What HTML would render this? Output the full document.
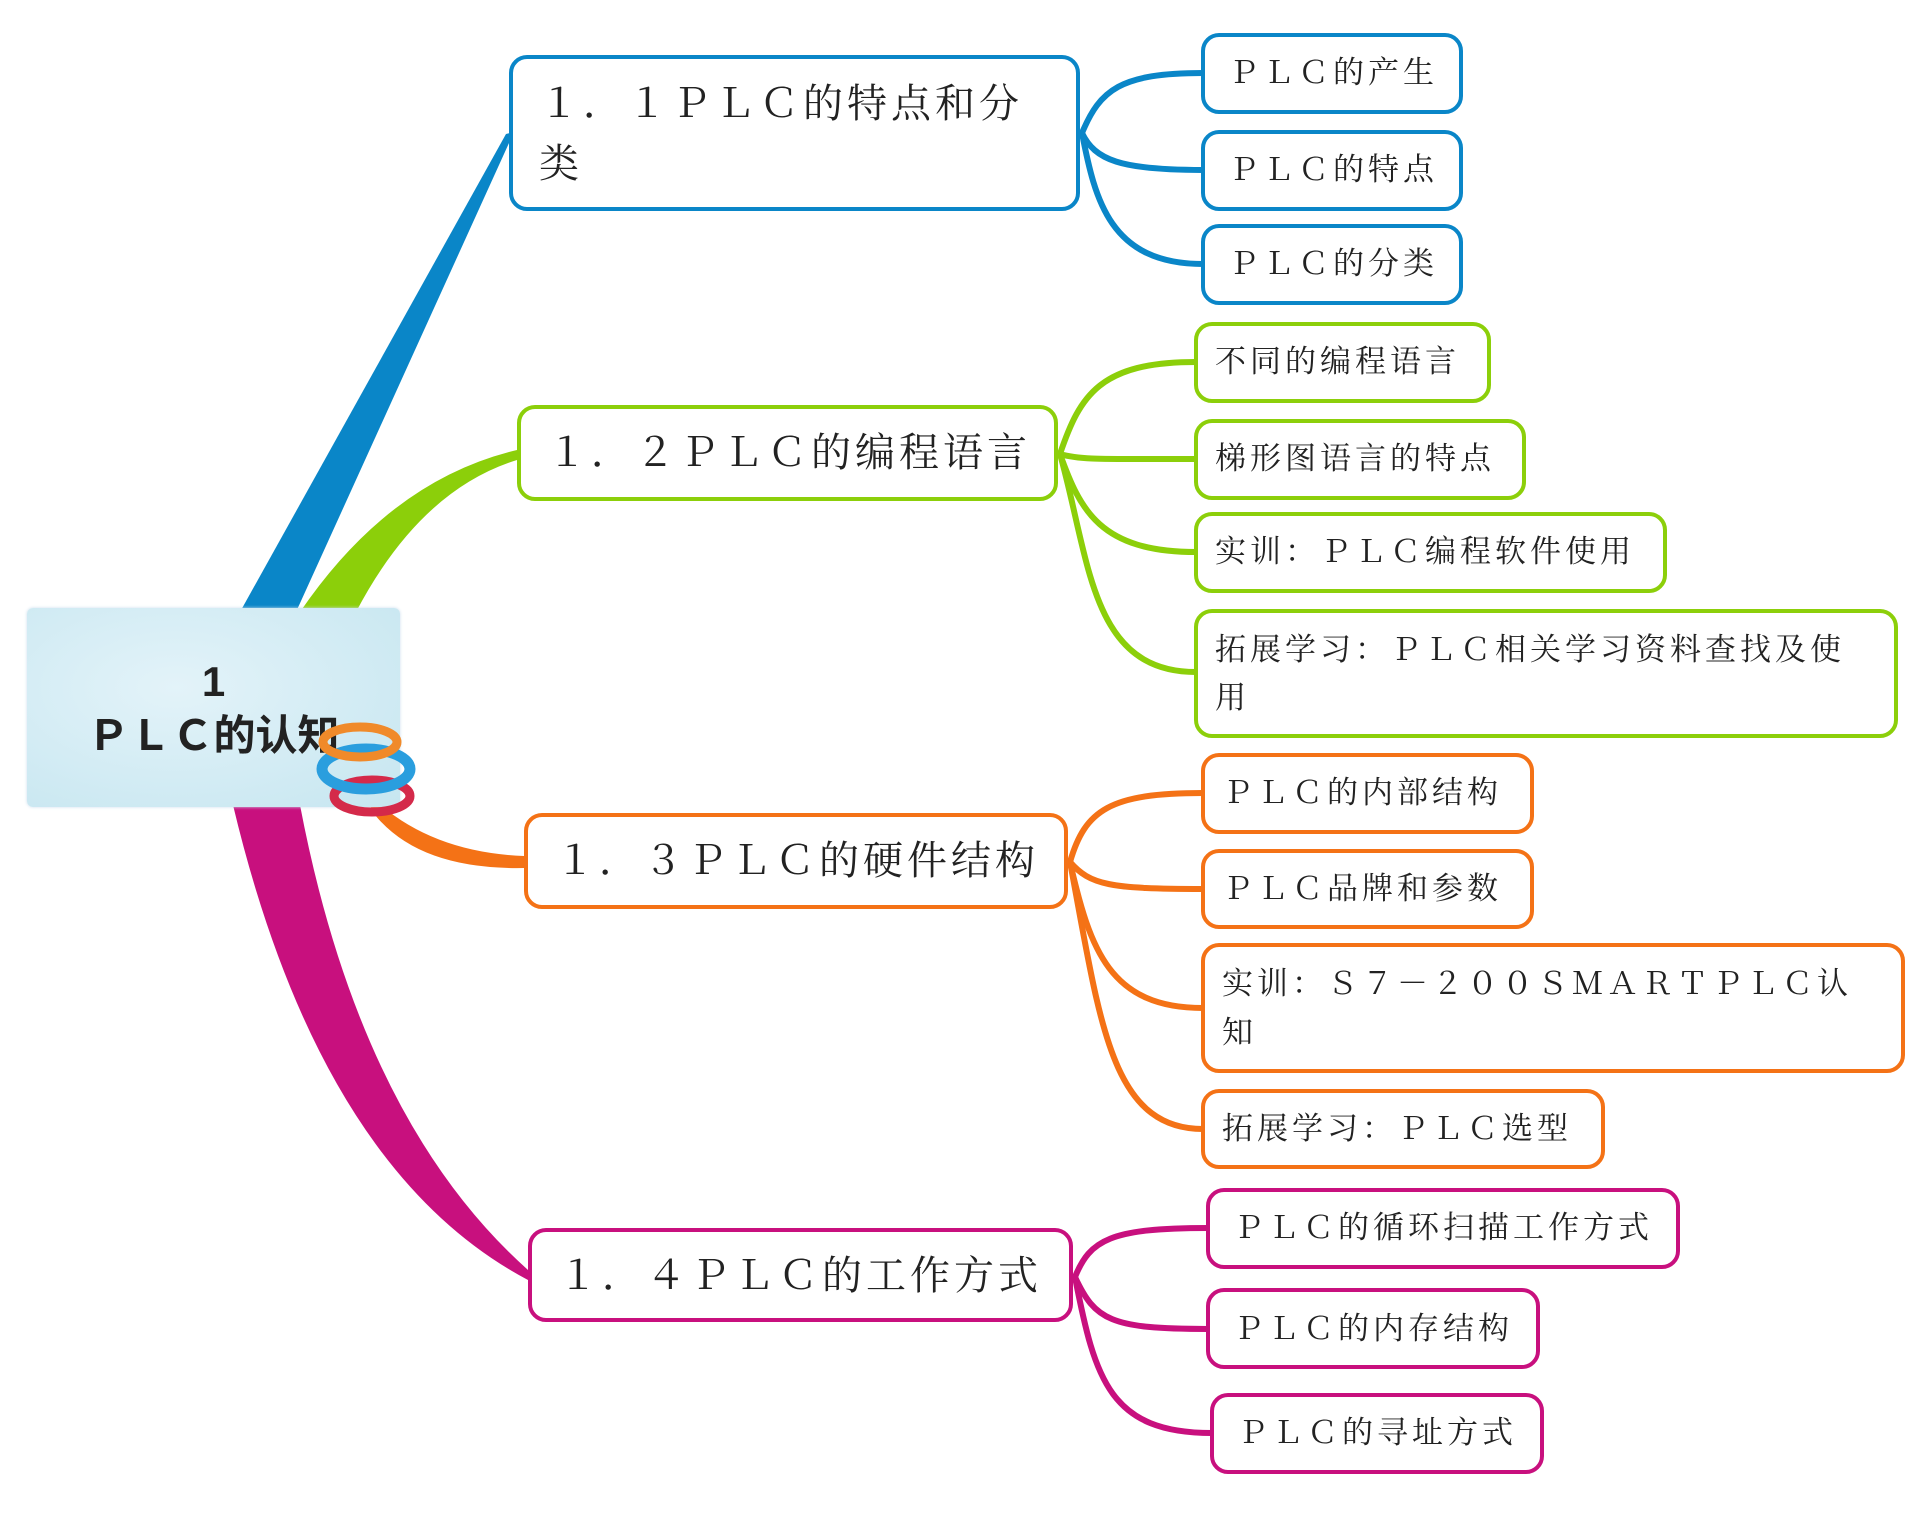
<!DOCTYPE html>
<html><head><meta charset="utf-8"><style>
html,body{margin:0;padding:0;background:#fff;}
body{width:1920px;height:1515px;position:relative;overflow:hidden;font-family:"Liberation Serif","Noto Serif CJK SC",serif;color:#222;}
.n{position:absolute;box-sizing:border-box;border:4px solid;border-radius:18px;background:#fff;}
.t{position:absolute;white-space:nowrap;}
.l1{font-size:40px;letter-spacing:4px;}
.l2{font-size:31px;letter-spacing:4px;}
.b{border-color:#0a86c8}.g{border-color:#8ccf0a}.o{border-color:#f47216}.m{border-color:#c8107e}
</style></head><body>
<svg width="1920" height="1515" style="position:absolute;left:0;top:0">
<path d="M240,612 L506,134 L514,132 L296,612 Z" fill="#0a86c8"/>
<path d="M300,612 Q390,480 517,450 L517,460 Q420,490 356,612 Z" fill="#8ccf0a"/>
<path d="M360,785 Q420,852 524,856 L524,868 Q420,870 375,815 Z" fill="#f47216"/>
<path d="M233,805 Q320,1170 528,1280 L528,1270 Q360,1120 300,805 Z" fill="#c8107e"/>
<g fill="none" stroke-width="6" stroke-linecap="round">
<path d="M1082,133 C1100,90 1120,73 1203,73" stroke="#0a86c8"/>
<path d="M1082,133 C1095,160 1120,170 1203,170" stroke="#0a86c8"/>
<path d="M1082,133 C1095,200 1110,264 1203,264" stroke="#0a86c8"/>
<path d="M1060,454 C1080,395 1100,362 1196,362" stroke="#8ccf0a"/>
<path d="M1060,454 C1080,460 1100,459 1196,459" stroke="#8ccf0a"/>
<path d="M1060,454 C1080,510 1100,552 1196,552" stroke="#8ccf0a"/>
<path d="M1060,454 C1090,560 1090,672 1196,672" stroke="#8ccf0a"/>
<path d="M1070,862 C1085,810 1110,793 1203,793" stroke="#f47216"/>
<path d="M1070,862 C1090,885 1110,889 1203,889" stroke="#f47216"/>
<path d="M1070,862 C1090,950 1110,1008 1203,1008" stroke="#f47216"/>
<path d="M1070,862 C1100,1020 1110,1129 1203,1129" stroke="#f47216"/>
<path d="M1075,1277 C1090,1240 1110,1228 1208,1228" stroke="#c8107e"/>
<path d="M1075,1277 C1095,1320 1110,1329 1208,1329" stroke="#c8107e"/>
<path d="M1075,1277 C1095,1380 1110,1433 1212,1433" stroke="#c8107e"/>
</g>
</svg>
<div style="position:absolute;left:27px;top:608px;width:373px;height:199px;border-radius:6px;background:radial-gradient(ellipse at 40% 40%,#e3f3f9,#c6e6f0);box-shadow:0 0 3px #cde;"></div>
<div class="t" style="left:27px;width:373px;top:655px;text-align:center;font-family:'Liberation Sans','Noto Sans CJK SC',sans-serif;font-size:42px;font-weight:bold;line-height:54px;color:#222;">1<br>ＰＬＣ的认知</div>
<svg width="1920" height="1515" style="position:absolute;left:0;top:0">
<ellipse cx="372" cy="796" rx="38" ry="16" fill="none" stroke="#d42a4a" stroke-width="9"/>
<ellipse cx="366" cy="769" rx="44" ry="20" fill="none" stroke="#2a9ede" stroke-width="11"/>
<ellipse cx="360" cy="742" rx="37" ry="15" fill="none" stroke="#f08a2a" stroke-width="9"/>
</svg>
<div class="n b" style="left:509px;top:55px;width:571px;height:156px;"></div>
<div class="t l1" style="left:539px;top:74px;line-height:60px;">１．１ＰＬＣ的特点和分<br>类</div>
<div class="n g" style="left:517px;top:405px;width:541px;height:96px;"></div>
<div class="t l1" style="left:547px;top:427px;line-height:52px;">１．２ＰＬＣ的编程语言</div>
<div class="n o" style="left:524px;top:813px;width:544px;height:96px;"></div>
<div class="t l1" style="left:555px;top:835px;line-height:52px;">１．３ＰＬＣ的硬件结构</div>
<div class="n m" style="left:528px;top:1228px;width:545px;height:94px;"></div>
<div class="t l1" style="left:558px;top:1250px;line-height:52px;">１．４ＰＬＣ的工作方式</div>

<div class="n b" style="left:1201px;top:33px;width:262px;height:81px;"></div>
<div class="t l2" style="left:1228px;top:53px;line-height:40px;">ＰＬＣ的产生</div>
<div class="n b" style="left:1201px;top:130px;width:262px;height:81px;"></div>
<div class="t l2" style="left:1228px;top:150px;line-height:40px;">ＰＬＣ的特点</div>
<div class="n b" style="left:1201px;top:224px;width:262px;height:81px;"></div>
<div class="t l2" style="left:1228px;top:244px;line-height:40px;">ＰＬＣ的分类</div>

<div class="n g" style="left:1194px;top:322px;width:297px;height:81px;"></div>
<div class="t l2" style="left:1215px;top:342px;line-height:40px;">不同的编程语言</div>
<div class="n g" style="left:1194px;top:419px;width:332px;height:81px;"></div>
<div class="t l2" style="left:1215px;top:439px;line-height:40px;">梯形图语言的特点</div>
<div class="n g" style="left:1194px;top:512px;width:473px;height:81px;"></div>
<div class="t l2" style="left:1215px;top:532px;line-height:40px;">实训：ＰＬＣ编程软件使用</div>
<div class="n g" style="left:1194px;top:609px;width:704px;height:129px;"></div>
<div class="t l2" style="left:1215px;top:626px;line-height:48px;">拓展学习：ＰＬＣ相关学习资料查找及使<br>用</div>

<div class="n o" style="left:1201px;top:753px;width:333px;height:81px;"></div>
<div class="t l2" style="left:1222px;top:773px;line-height:40px;">ＰＬＣ的内部结构</div>
<div class="n o" style="left:1201px;top:849px;width:333px;height:80px;"></div>
<div class="t l2" style="left:1222px;top:869px;line-height:40px;">ＰＬＣ品牌和参数</div>
<div class="n o" style="left:1201px;top:943px;width:704px;height:130px;"></div>
<div class="t l2" style="left:1222px;top:959px;line-height:49px;">实训：Ｓ７－２００ＳＭＡＲＴＰＬＣ认<br>知</div>
<div class="n o" style="left:1201px;top:1089px;width:404px;height:80px;"></div>
<div class="t l2" style="left:1222px;top:1109px;line-height:40px;">拓展学习：ＰＬＣ选型</div>

<div class="n m" style="left:1206px;top:1188px;width:474px;height:81px;"></div>
<div class="t l2" style="left:1233px;top:1208px;line-height:40px;">ＰＬＣ的循环扫描工作方式</div>
<div class="n m" style="left:1206px;top:1288px;width:334px;height:81px;"></div>
<div class="t l2" style="left:1233px;top:1309px;line-height:40px;">ＰＬＣ的内存结构</div>
<div class="n m" style="left:1210px;top:1393px;width:334px;height:81px;"></div>
<div class="t l2" style="left:1237px;top:1413px;line-height:40px;">ＰＬＣ的寻址方式</div>
</body></html>
